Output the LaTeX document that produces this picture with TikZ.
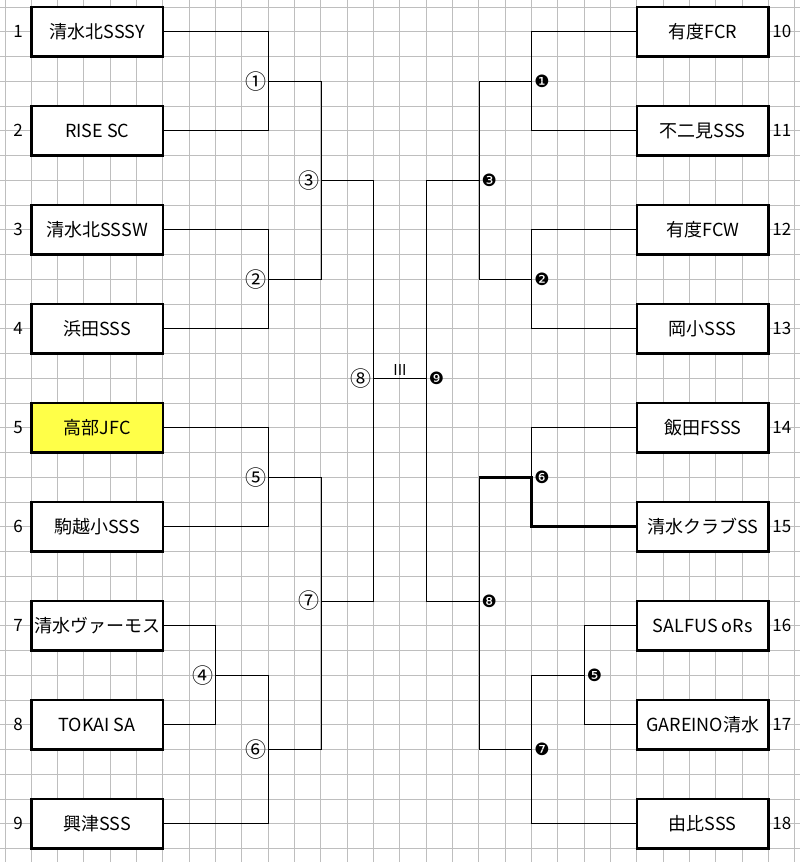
\documentclass[tikz,border=0pt]{standalone}
\usepackage{fontspec}
\setmainfont{Noto Sans CJK JP}
\newfontfamily\dingfont{DejaVu Sans}
\definecolor{gridgray}{RGB}{190,190,190}
\definecolor{winyellow}{RGB}{255,255,72}
\tikzset{
	gridline/.style={gridgray,line width=1pt},
	team/.style={draw,line width=2.6pt,fill=white,minimum width=131.6pt,minimum height=49.5pt,inner sep=0pt,font=\fontsize{18}{20}\selectfont},
	seed/.style={font=\fontsize{17}{19}\selectfont},
	bracket/.style={line width=0.9pt},
	winner/.style={line width=3.2pt},
	roundL/.style={left,inner sep=1.5pt,font=\fontsize{21}{23}\selectfont},
	roundR/.style={right,inner sep=2.5pt,font=\dingfont\fontsize{17}{19}\selectfont}
}
\begin{document}
\begin{tikzpicture}[x=26.33pt,y=-24.75pt]
		\fill[white] (-0.19,-0.283) rectangle (30.194,34.545);
		\useasboundingbox (-0.19,-0.283) rectangle (30.194,34.545);
		% grid paper
		\foreach \i in {0,...,30}
			\draw[gridline] (\i,-0.283) -- (\i,34.545);
		\foreach \j in {0,...,34}
			\draw[gridline] (-0.19,\j) -- (30.194,\j);
		% left teams
		\node[team] (t1) at (3.5,1) {清水北SSSY};
		\node[team] (t2) at (3.5,5) {RISE SC};
		\node[team] (t3) at (3.5,9) {清水北SSSW};
		\node[team] (t4) at (3.5,13) {浜田SSS};
		\node[team,fill=winyellow] (t5) at (3.5,17) {高部JFC};
		\node[team] (t6) at (3.5,21) {駒越小SSS};
		\node[team] (t7) at (3.5,25) {清水ヴァーモス};
		\node[team] (t8) at (3.5,29) {TOKAI SA};
		\node[team] (t9) at (3.5,33) {興津SSS};
		% right teams
		\node[team] (t10) at (26.5,1) {有度FCR};
		\node[team] (t11) at (26.5,5) {不二見SSS};
		\node[team] (t12) at (26.5,9) {有度FCW};
		\node[team] (t13) at (26.5,13) {岡小SSS};
		\node[team] (t14) at (26.5,17) {飯田FSSS};
		\node[team] (t15) at (26.5,21) {清水クラブSS};
		\node[team] (t16) at (26.5,25) {SALFUS oRs};
		\node[team] (t17) at (26.5,29) {GAREINO清水};
		\node[team] (t18) at (26.5,33) {由比SSS};
		% seed numbers
		\foreach \n/\r in {1/1,2/5,3/9,4/13,5/17,6/21,7/25,8/29,9/33}
			\node[seed] (s\n) at (0.5,\r) {\n};
		\foreach \n/\r in {10/1,11/5,12/9,13/13,14/17,15/21,16/25,17/29,18/33}
			\node[seed] (s\n) at (29.5,\r) {\n};
		% junctions
		\coordinate (m1) at (10,3);
		\coordinate (m2) at (10,11);
		\coordinate (m3) at (12,7);
		\coordinate (m5) at (10,19);
		\coordinate (m4) at (8,27);
		\coordinate (m6) at (10,30);
		\coordinate (m7) at (12,24);
		\coordinate (m8) at (14,15);
		\coordinate (n1) at (20,3);
		\coordinate (n2) at (20,11);
		\coordinate (n3) at (18,7);
		\coordinate (n6) at (20,19);
		\coordinate (n5) at (22,27);
		\coordinate (n7) at (20,30);
		\coordinate (n8) at (18,24);
		\coordinate (n9) at (16,15);
		% left bracket
		\draw[bracket] (t1.east) -| (m1) |- (t2.east);
		\draw[bracket] (t3.east) -| (m2) |- (t4.east);
		\draw[bracket] (m1) -| (m3) |- (m2);
		\draw[bracket] (t5.east) -| (m5) |- (t6.east);
		\draw[bracket] (t7.east) -| (m4) |- (t8.east);
		\draw[bracket] (m4) -| (m6) |- (t9.east);
		\draw[bracket] (m5) -| (m7) |- (m6);
		\draw[bracket] (m3) -| (m8) |- (m7);
		% right bracket
		\draw[bracket] (t10.west) -| (n1) |- (t11.west);
		\draw[bracket] (t12.west) -| (n2) |- (t13.west);
		\draw[bracket] (n1) -| (n3) |- (n2);
		\draw[bracket] (t14.west) -| (n6);
		\draw[bracket] (n6 -| n8) |- (n7);
		\draw[winner] (t15.west) -| (n6) -- (n6 -| n8);
		\draw[bracket] (t16.west) -| (n5) |- (t17.west);
		\draw[bracket] (n5) -| (n7) |- (t18.west);
		\draw[bracket] (n3) -| (n9) |- (n8);
		% final
		\draw[bracket] (m8) -- node[above,inner sep=2pt,font=\fontsize{15}{17}\selectfont] (fin) {III} (n9);
		% match numbers
		\node[roundL] (r1) at (m1) {①};
		\node[roundL] (r2) at (m2) {②};
		\node[roundL] (r3) at (m3) {③};
		\node[roundL] (r4) at (m4) {④};
		\node[roundL] (r5) at (m5) {⑤};
		\node[roundL] (r6) at (m6) {⑥};
		\node[roundL] (r7) at (m7) {⑦};
		\node[roundL] (r8) at (m8) {⑧};
		\node[roundR] (q1) at (n1) {❶};
		\node[roundR] (q2) at (n2) {❷};
		\node[roundR] (q3) at (n3) {❸};
		\node[roundR] (q5) at (n5) {❺};
		\node[roundR] (q6) at (n6) {❻};
		\node[roundR] (q7) at (n7) {❼};
		\node[roundR] (q8) at (n8) {❽};
		\node[roundR] (q9) at (n9) {❾};
	\end{tikzpicture}
\end{document}
